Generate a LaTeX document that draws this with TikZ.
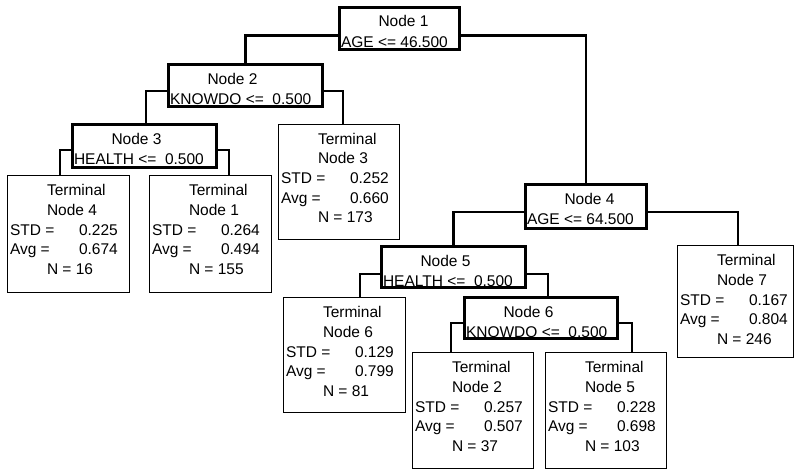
\documentclass[tikz,border=0pt]{standalone}
\usepackage{fontspec}
\setmainfont{Liberation Sans}
\usetikzlibrary{fit}
\tikzset{
  condbox/.style={draw, line width=2.8pt, inner sep=0pt, outer sep=0pt},
  termbox/.style={draw, line width=1.3pt, inner sep=0pt, outer sep=0pt},
  conn/.style={line width=2.8pt},
  txt/.style={inner sep=0pt, outer sep=0pt, anchor=base west, font=\fontsize{15.5}{18}\selectfont},
}
% name, x1, y1, x2, y2 (outer edges), label, condition
\newcommand\condnode[7]{%
  \node[condbox, fit={({#2+1.4},{#3+1.4}) ({#4-1.4},{#5-1.4})}] (#1) {};
  \node[txt] (#1l) at ({#2+40.5},{#3+21}) {#6};
  \node[txt] (#1c) at ({#2+3},{#3+41}) {#7};
}
% name, x1, y1, x2, y2 (outer edges), number, std, avg, n
\newcommand\termnode[9]{%
  \node[termbox, fit={({#2+0.65},{#3+0.65}) ({#4-0.65},{#5-0.65})}] (#1) {};
  \node[txt] (#1a) at ({#2+40},{#3+20.5}) {Terminal};
  \node[txt] (#1b) at ({#2+40},{#3+40.3}) {Node #6};
  \node[txt] (#1c) at ({#2+3},{#3+60}) {STD =};
  \node[txt] (#1d) at ({#2+72},{#3+60}) {#7};
  \node[txt] (#1e) at ({#2+3},{#3+79.7}) {Avg =};
  \node[txt] (#1f) at ({#2+72},{#3+79.7}) {#8};
  \node[txt] (#1g) at ({#2+40},{#3+99.4}) {N = #9};
}
\begin{document}
\begin{tikzpicture}[x=1pt, y=-1pt]
\fill[white] (0,0) rectangle (795,471);
\useasboundingbox (0,0) rectangle (795,471);

\condnode{n1}{338}{6}{461}{51}{Node 1}{AGE <= 46.500}
\condnode{n2}{167}{63}{324}{108}{Node 2}{KNOWDO <=\ \ 0.500}
\condnode{n3}{71}{123}{218}{169}{Node 3}{HEALTH <=\ \ 0.500}
\condnode{n4}{524}{183}{648}{230}{Node 4}{AGE <= 64.500}
\condnode{n5}{380}{245}{527}{289}{Node 5}{HEALTH <=\ \ 0.500}
\condnode{n6}{463}{296}{619}{340}{Node 6}{KNOWDO <=\ \ 0.500}

\termnode{t4}{7}{175}{130}{293}{4}{0.225}{0.674}{16}
\termnode{t1}{149}{175}{272}{293}{1}{0.264}{0.494}{155}
\termnode{t3}{278}{123.5}{400}{240}{3}{0.252}{0.660}{173}
\termnode{t6}{283}{297}{406}{413}{6}{0.129}{0.799}{81}
\termnode{t2}{412}{352}{534}{469}{2}{0.257}{0.507}{37}
\termnode{t5}{545}{352}{667}{469}{5}{0.228}{0.698}{103}
\termnode{t7}{677}{245}{794}{358}{7}{0.167}{0.804}{246}

% connectors
\draw[conn] ([yshift=-28.1pt]n1.north west) -| (n2.north);
\draw[conn] ([yshift=-28.1pt]n1.north east) -| (n4.north);
\draw[conn] ([yshift=-26.6pt]n2.north west) -| ([xshift=1.5pt]n3.north);
\draw[conn] ([yshift=-26.6pt]n2.north east) -| ([xshift=64.35pt]t3.north west);
\draw[conn] ([yshift=-25.6pt]n3.north west) -| ([xshift=52.35pt]t4.north west);
\draw[conn] ([yshift=-25.6pt]n3.north east) -| ([xshift=79.35pt]t1.north west);
\draw[conn] ([yshift=-27.6pt]n4.north west) -| (n5.north);
\draw[conn] ([yshift=-27.6pt]n4.north east) -| ([xshift=60.35pt]t7.north west);
\draw[conn] ([yshift=-27.6pt]n5.north west) -| ([xshift=76.35pt]t6.north west);
\draw[conn] ([yshift=-27.6pt]n5.north east) -| ([xshift=83.6pt]n6.north west);
\draw[conn] ([yshift=-25.6pt]n6.north west) -| ([xshift=38.35pt]t2.north west);
\draw[conn] ([yshift=-25.6pt]n6.north east) -| ([xshift=86.35pt]t5.north west);
\end{tikzpicture}
\end{document}
